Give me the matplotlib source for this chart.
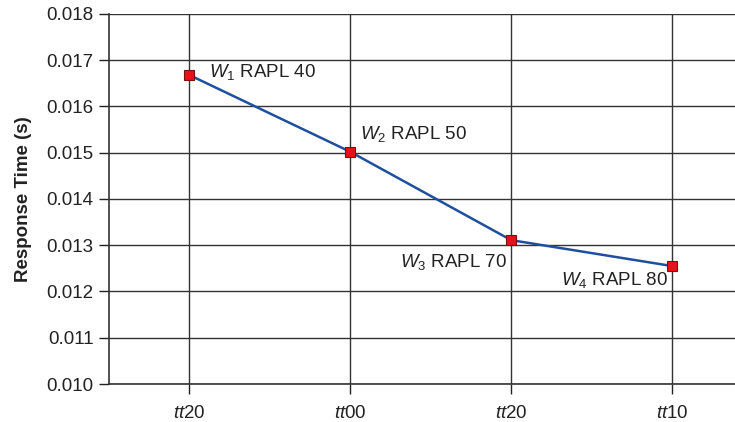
import matplotlib
matplotlib.use("Agg")
import matplotlib.pyplot as plt

# ======================
# Data
# ======================
tick_labels = [r"$\it{tt}$20", r"$\it{tt}$00", r"$\it{tt}$20", r"$\it{tt}$10"]
response_time = [0.01668, 0.01502, 0.01311, 0.01255]
point_labels = [r"$W_1$ RAPL 40", r"$W_2$ RAPL 50", r"$W_3$ RAPL 70", r"$W_4$ RAPL 80"]
y_ticks = [0.010, 0.011, 0.012, 0.013, 0.014, 0.015, 0.016, 0.017, 0.018]

plt.rcParams["font.family"] = ["Liberation Sans", "DejaVu Sans"]
plt.rcParams["mathtext.fontset"] = "custom"
plt.rcParams["mathtext.rm"] = "Liberation Sans"
plt.rcParams["mathtext.it"] = "Liberation Sans:italic"

FS = 13.5

fig = plt.figure(figsize=(7.35, 4.22), dpi=100)
ax = fig.add_axes([0.148, 0.09, 0.852, 0.877])

x = list(range(len(response_time)))
ax.plot(x, response_time, color="#1f4f9f", lw=1.8, zorder=3)
ax.plot(x, response_time, ls="none", marker="s", ms=7.5, mfc="#e8101a",
        mec="#7a1010", mew=0.8, zorder=4)

# label offsets in points (dx, dy, ha)
offsets = [(14, 2, "left"), (7, 13, "left"), (-3, -16, "right"), (-3, -10, "right")]
for xi, yi, lab, (dx, dy, ha) in zip(x, response_time, point_labels, offsets):
    ax.annotate(lab, (xi, yi), xytext=(dx, dy), textcoords="offset points",
                ha=ha, va="center", fontsize=FS, color="#222222")

ax.set_xlim(-0.5, 3.39)
ax.set_ylim(0.010, 0.018)
ax.set_xticks(x)
ax.set_xticklabels(tick_labels)
ax.set_yticks(y_ticks)
ax.set_yticklabels([f"{v:.3f}" for v in y_ticks])
ax.tick_params(axis="both", labelsize=FS, colors="#222222", length=7,
               width=1, direction="out", pad=4)
ax.tick_params(axis="x", pad=8)
ax.grid(True, color="#333333", lw=1)
ax.set_axisbelow(True)
for side in ["top", "right"]:
    ax.spines[side].set_visible(False)
for side in ["left", "bottom"]:
    ax.spines[side].set_color("#333333")
    ax.spines[side].set_linewidth(1.2)

ax.set_ylabel("Response Time (s)", fontsize=FS, fontweight="bold", color="#222222", labelpad=10)

fig.savefig("out.png", dpi=100)
